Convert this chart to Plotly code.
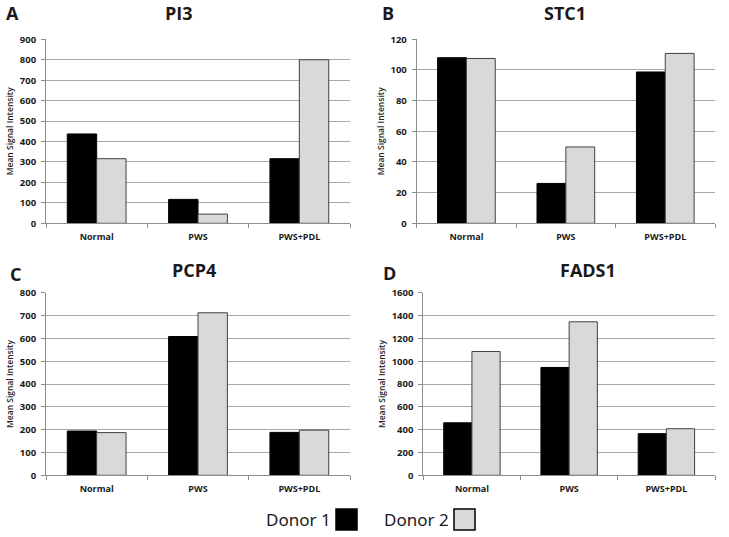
import plotly.graph_objects as go

categories = ["Normal", "PWS", "PWS+PDL"]
pi3_d1 = [437, 117, 316]
pi3_d2 = [316, 45, 800]
stc1_d1 = [108, 26, 98.7]
stc1_d2 = [107.5, 49.8, 110.8]
pcp4_d1 = [194, 608, 188]
pcp4_d2 = [187, 712, 198]
fads1_d1 = [460, 945, 365]
fads1_d2 = [1085, 1345, 408]

W, H = 729, 537
panels = [
    dict(name="PI3", letter="A", d1=pi3_d1, d2=pi3_d2, rng=[0, 900], dtick=100,
         x=(46, 350), y=(39.3, 223.3), title=(179, 13), let=(12, 13)),
    dict(name="STC1", letter="B", d1=stc1_d1, d2=stc1_d2, rng=[0, 120], dtick=20,
         x=(416.7, 715), y=(39.3, 223.3), title=(565, 13), let=(388, 13)),
    dict(name="PCP4", letter="C", d1=pcp4_d1, d2=pcp4_d2, rng=[0, 800], dtick=100,
         x=(46, 350), y=(292.7, 475.3), title=(194, 270), let=(15, 274)),
    dict(name="FADS1", letter="D", d1=fads1_d1, d2=fads1_d2, rng=[0, 1600], dtick=200,
         x=(423.3, 715), y=(292.7, 475.3), title=(588, 270), let=(389, 273)),
]

fig = go.Figure()
annotations = []
grid = "#a8a8a8"
txt = "#1a1a1a"
for i, p in enumerate(panels, start=1):
    xa = "x" if i == 1 else f"x{i}"
    ya = "y" if i == 1 else f"y{i}"
    fig.add_trace(go.Bar(x=categories, y=p["d1"], name="Donor 1", xaxis=xa, yaxis=ya,
                         marker=dict(color="#000000", line=dict(color="#000000", width=1)),
                         showlegend=False))
    fig.add_trace(go.Bar(x=categories, y=p["d2"], name="Donor 2", xaxis=xa, yaxis=ya,
                         marker=dict(color="#d9d9d9", line=dict(color="#404040", width=1)),
                         showlegend=False))
    xk = "xaxis" if i == 1 else f"xaxis{i}"
    yk = "yaxis" if i == 1 else f"yaxis{i}"
    fig.layout[xk] = dict(domain=[p["x"][0] / W, p["x"][1] / W], anchor=ya, automargin=False,
                          showline=True, linecolor="#8c8c8c", linewidth=1,
                          ticks="outside", tickson="boundaries", ticklen=4, tickcolor="#8c8c8c",
                          ticklabelstandoff=5,
                          tickfont=dict(family="Open Sans", size=9, color=txt, weight="bold"),
                          showgrid=False, fixedrange=True)
    fig.layout[yk] = dict(domain=[1 - p["y"][1] / H, 1 - p["y"][0] / H], anchor=xa, automargin=False,
                          range=p["rng"], dtick=p["dtick"], showline=True, linecolor="#8c8c8c",
                          linewidth=1, ticks="outside", ticklen=4, tickcolor="#8c8c8c",
                          ticklabelstandoff=3,
                          showgrid=True, gridcolor=grid, gridwidth=1, zeroline=False,
                          tickfont=dict(family="Open Sans", size=9.5, color=txt, weight="bold"),
                          title=dict(text="Mean Signal Intensity",
                                     font=dict(family="Open Sans", size=8.5, color=txt, weight=600),
                                     standoff=4))
    annotations.append(dict(text=f"<b>{p['name']}</b>", x=p["title"][0] / W, y=1 - p["title"][1] / H,
                            xref="paper", yref="paper", showarrow=False, xanchor="center",
                            yanchor="middle", font=dict(family="Open Sans", size=18, color=txt)))
    annotations.append(dict(text=f"<b>{p['letter']}</b>", x=p["let"][0] / W, y=1 - p["let"][1] / H,
                            xref="paper", yref="paper", showarrow=False, xanchor="center",
                            yanchor="middle", font=dict(family="Open Sans", size=18, color=txt)))

# legend
legend_items = [("Donor 1", "#000000", "#000000", 298, 336), ("Donor 2", "#d9d9d9", "#000000", 416, 454)]
shapes = []
for label, fill, edge, tx, bx in legend_items:
    annotations.append(dict(text=label, x=tx / W, y=1 - 519 / H, xref="paper", yref="paper",
                            showarrow=False, xanchor="center", yanchor="middle",
                            font=dict(family="Noto Sans", size=17, color=txt)))
    shapes.append(dict(type="rect", xref="paper", yref="paper", x0=bx / W, x1=(bx + 21) / W,
                       y0=1 - 530 / H, y1=1 - 509 / H, fillcolor=fill,
                       line=dict(color=edge, width=1.5)))

fig.update_layout(width=W, height=H, margin=dict(l=0, r=0, t=0, b=0, autoexpand=False),
                  paper_bgcolor="white", plot_bgcolor="white",
                  barmode="group", bargap=0.42, bargroupgap=0,
                  annotations=annotations, shapes=shapes, showlegend=False)
js = ("document.documentElement.style.margin='0';document.body.style.margin='0';"
      "document.body.style.overflow='hidden';"
      "var gd=document.querySelector('.plotly-graph-div');"
      "gd.style.position='fixed';gd.style.top='0px';gd.style.left='0px';")
fig.write_html("out.html", post_script=js, config={"displayModeBar": False})
